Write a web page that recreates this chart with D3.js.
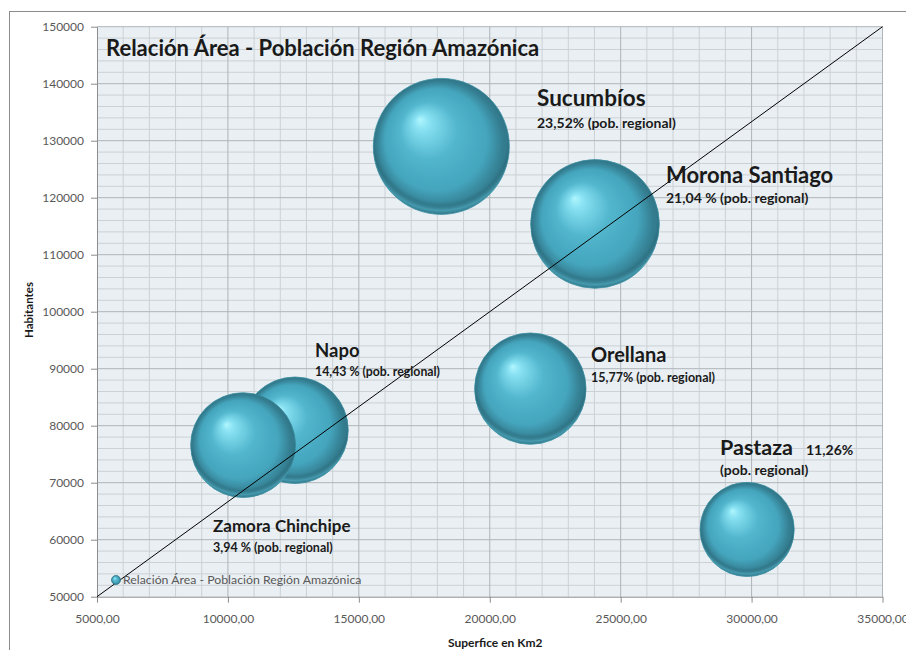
<!DOCTYPE html>
<html lang="es">
<head>
<meta charset="UTF-8">
<title>Relación Área - Población Región Amazónica</title>
<script src="https://cdn.jsdelivr.net/npm/d3@7"></script>
<style>
  html, body { margin: 0; padding: 0; background: #fff; }
  svg { display: block; font-family: Lato, "Open Sans", sans-serif; }
</style>
</head>
<body>
<div id="chart"></div>
<script>
// datos
const provincias = ["Sucumbíos", "Morona Santiago", "Orellana", "Napo", "Zamora Chinchipe", "Pastaza"];
const superficie = [18150, 24020, 21550, 12560, 10580, 29830];   // km2
const habitantes = [129000, 115400, 86500, 79200, 76600, 61800];
const porcentaje = ["23,52%", "21,04 %", "15,77%", "14,43 %", "3,94 %", "11,26%"];
const xTicks = [5000, 10000, 15000, 20000, 25000, 30000, 35000];
const yTicks = [50000, 60000, 70000, 80000, 90000, 100000, 110000, 120000, 130000, 140000, 150000];
const titulo = "Relación Área - Población Región Amazónica";

// etiquetas colocadas a mano (como cuadros de texto en el original)
const etiquetas = [
  { name: "Sucumbíos", x: 537, y: 106, size: 22.5, sub: "23,52% (pob. regional)", sy: 128, subSize: 14 },
  { name: "Morona Santiago", x: 666, y: 183, size: 22, sub: "21,04 % (pob. regional)", sy: 203, subSize: 14 },
  { name: "Orellana", x: 591, y: 362, size: 20, sub: "15,77% (pob. regional)", sy: 382, subSize: 12.5 },
  { name: "Napo", x: 315, y: 357, size: 18.5, sub: "14,43 % (pob. regional)", sy: 376, subSize: 12.3 },
  { name: "Zamora Chinchipe", x: 213, y: 532, size: 17, sub: "3,94 % (pob. regional)", sy: 552, subSize: 12.5 },
  { name: "Pastaza", x: 720, y: 455, size: 21.5, sub: "(pob. regional)", sy: 475, subSize: 14, extra: "11,26%", ex: 806 }
];

const width = 906, height = 650;
const margin = { left: 97, right: 906 - 882.5, top: 26.7, bottom: 650 - 596.7 };

const svg = d3.select("#chart").append("svg")
  .attr("width", width)
  .attr("height", height);

const x = d3.scaleLinear().domain([5000, 35000]).range([margin.left, width - margin.right]);
const y = d3.scaleLinear().domain([50000, 150000]).range([height - margin.bottom, margin.top]);
const r = d3.scaleSqrt().domain([0, d3.max(habitantes)]).range([0, 68]);

// gradientes para la esfera
const defs = svg.append("defs");
const g1 = defs.append("radialGradient").attr("id", "esfera")
  .attr("cx", "50%").attr("cy", "50%").attr("r", "50%")
  .attr("fx", "34%").attr("fy", "30%");
[[0, "#b0f6ff"], [0.12, "#86e0f1"], [0.42, "#52b6cd"], [0.75, "#44a5bd"], [0.92, "#357f92"], [1, "#2f7486"]]
  .forEach(s => g1.append("stop").attr("offset", s[0]).attr("stop-color", s[1]));
const g2 = defs.append("radialGradient").attr("id", "borde")
  .attr("cx", "50%").attr("cy", "42%").attr("r", "58%");
[[0, "#4bb0c8", 0], [0.8, "#4bb0c8", 0], [0.88, "#1d5362", 0.18], [0.95, "#5fc2d8", 0.45], [1, "#5fc2d8", 0]]
  .forEach(s => g2.append("stop").attr("offset", s[0]).attr("stop-color", s[1]).attr("stop-opacity", s[2]));

// borde del area del grafico
svg.append("rect")
  .attr("x", 9.5).attr("y", 11.5)
  .attr("width", 940).attr("height", 700)
  .attr("fill", "none").attr("stroke", "#8c8c8c");

// fondo del area de trazado
svg.append("rect")
  .attr("x", x(5000)).attr("y", y(150000))
  .attr("width", x(35000) - x(5000)).attr("height", y(50000) - y(150000))
  .attr("fill", "#e9eff2");

// lineas de division secundarias
const grid = svg.append("g");
grid.selectAll(".vmin")
  .data(d3.range(6000, 35000, 1000).filter(v => v % 5000 !== 0))
  .join("line")
  .attr("x1", d => x(d)).attr("x2", d => x(d))
  .attr("y1", y(150000)).attr("y2", y(50000))
  .attr("stroke", "#cbd1d5").attr("stroke-width", 1);
grid.selectAll(".hmin")
  .data(d3.range(52000, 150000, 2000).filter(v => v % 10000 !== 0))
  .join("line")
  .attr("y1", d => y(d)).attr("y2", d => y(d))
  .attr("x1", x(5000)).attr("x2", x(35000))
  .attr("stroke", "#cbd1d5").attr("stroke-width", 1);
// principales
grid.selectAll(".vmaj")
  .data(xTicks.slice(1))
  .join("line")
  .attr("x1", d => x(d)).attr("x2", d => x(d))
  .attr("y1", y(150000)).attr("y2", y(50000))
  .attr("stroke", "#aeb4b8").attr("stroke-width", 1);
grid.selectAll(".hmaj")
  .data(yTicks.slice(1))
  .join("line")
  .attr("y1", d => y(d)).attr("y2", d => y(d))
  .attr("x1", x(5000)).attr("x2", x(35000))
  .attr("stroke", "#aeb4b8").attr("stroke-width", 1);

// ejes
const fmtX = d => d.toFixed(2).replace(".", ",");
const xAxis = svg.append("g")
  .attr("transform", `translate(0,${y(50000)})`)
  .call(d3.axisBottom(x).tickValues(xTicks).tickFormat(fmtX).tickSize(6).tickSizeOuter(0).tickPadding(12));
const yAxis = svg.append("g")
  .attr("transform", `translate(${x(5000)},0)`)
  .call(d3.axisLeft(y).tickValues(yTicks).tickFormat(d3.format("d")).tickSize(6).tickSizeOuter(0).tickPadding(7));
[xAxis, yAxis].forEach(a => {
  a.select(".domain").attr("stroke", "#8c8c8c");
  a.selectAll(".tick line").attr("stroke", "#8c8c8c");
  a.selectAll(".tick text").attr("fill", "#595959").attr("font-size", 12)
    .attr("font-family", "Lato, sans-serif");
});

// burbujas (las mas grandes atras)
const idx = d3.range(provincias.length).sort((a, b) => habitantes[b] - habitantes[a]);
const bub = svg.append("g").selectAll("g")
  .data(idx)
  .join("g");
bub.append("circle")
  .attr("cx", i => x(superficie[i])).attr("cy", i => y(habitantes[i]))
  .attr("r", i => r(habitantes[i]))
  .attr("fill", "url(#esfera)")
  .attr("stroke", "#3b8fa3").attr("stroke-width", 0.8);
bub.append("circle")
  .attr("cx", i => x(superficie[i])).attr("cy", i => y(habitantes[i]))
  .attr("r", i => r(habitantes[i]))
  .attr("fill", "url(#borde)");

// linea diagonal
svg.append("line")
  .attr("x1", x(5000)).attr("y1", y(50000))
  .attr("x2", x(35000)).attr("y2", y(150000))
  .attr("stroke", "#000").attr("stroke-width", 1);

// titulo
svg.append("text")
  .attr("x", 106).attr("y", 56)
  .attr("font-family", "Lato, sans-serif")
  .attr("font-weight", "bold").attr("font-size", 22).attr("fill", "#1a1a1a")
  .text(titulo);

// etiquetas de provincias
const lab = svg.append("g").attr("fill", "#1a1a1a").attr("font-weight", "bold");
etiquetas.forEach(e => {
  lab.append("text").attr("x", e.x).attr("y", e.y).attr("font-size", e.size).text(e.name);
  lab.append("text").attr("x", e.x).attr("y", e.sy).attr("font-size", e.subSize).text(e.sub);
  if (e.extra) lab.append("text").attr("x", e.ex).attr("y", e.y).attr("font-size", e.subSize).text(e.extra);
});

// leyenda
svg.append("circle").attr("cx", 116).attr("cy", 580).attr("r", 4.5)
  .attr("fill", "url(#esfera)").attr("stroke", "#2d7a8d").attr("stroke-width", 0.8);
svg.append("text").attr("x", 123).attr("y", 584)
  .attr("font-size", 12.3).attr("fill", "#595959").text(titulo);

// titulos de ejes
svg.append("text")
  .attr("transform", "translate(33,310) rotate(-90)")
  .attr("text-anchor", "middle").attr("font-weight", "bold")
  .attr("font-size", 11.5).attr("fill", "#1a1a1a")
  .text("Habitantes");
svg.append("text")
  .attr("x", 448).attr("y", 647)
  .attr("font-weight", "bold")
  .attr("font-size", 12).attr("fill", "#1a1a1a")
  .text("Superfice en Km2");
</script>
</body>
</html>
